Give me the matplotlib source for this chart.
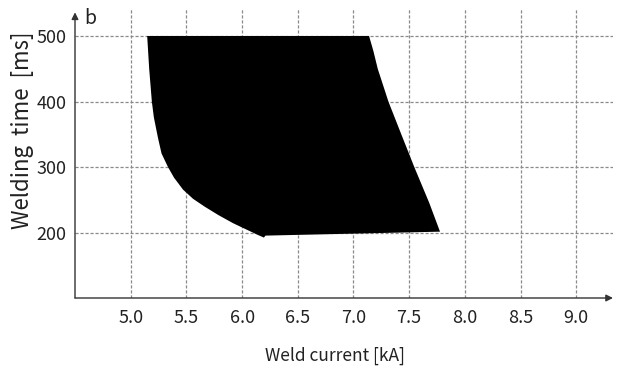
import matplotlib
matplotlib.use("Agg")
import matplotlib.pyplot as plt

plt.rcParams['font.family'] = ['Noto Sans CJK KR', 'DejaVu Sans']

# Boundary of the weldable region (current [kA], time [ms])
left_current = [5.148, 5.166, 5.19, 5.208, 5.246, 5.277, 5.336, 5.39, 5.47, 5.56, 5.665, 5.79, 5.918, 6.142, 6.196]
left_time = [500, 450, 400, 376, 344, 321, 300, 284, 266, 252, 240, 227, 215, 197, 193]
bottom_current = [6.21, 7.777]
bottom_time = [196, 202]
right_current = [7.777, 7.68, 7.547, 7.43, 7.314, 7.218, 7.179, 7.14]
right_time = [202, 246, 300, 350, 400, 450, 477, 500]

x_ticks = [5.0, 5.5, 6.0, 6.5, 7.0, 7.5, 8.0, 8.5, 9.0]
x_labels = ["5.0", "5.5", "6.0", "6.5", "7.0", "7.5", "8.0", "8.5", "9.0"]
y_ticks = [200, 300, 400, 500]
y_labels = ["200", "300", "400", "500"]

fig = plt.figure(figsize=(6.17, 3.71), dpi=100)
ax = fig.add_axes([75/617, 73/371, 538/617, 290/371])

xs = left_current + bottom_current + right_current
ys = left_time + bottom_time + right_time
ax.fill(xs, ys, color='black', lw=0, zorder=3, joinstyle='round')

ax.set_xlim(4.5, 9.33)
ax.set_ylim(101, 542.6)
ax.set_xticks(x_ticks)
ax.set_xticklabels(x_labels)
ax.set_yticks(y_ticks)
ax.set_yticklabels(y_labels)
ax.tick_params(length=0, labelsize=13, colors='#222222')
ax.tick_params(axis='x', pad=8)
ax.tick_params(axis='y', pad=6)

ax.grid(True, color='#8a8a8a', linestyle=(0, (2.5, 1.5)), linewidth=0.9, zorder=1)

for s in ['top', 'right', 'left', 'bottom']:
    ax.spines[s].set_visible(False)

# axes with arrows
ax.annotate('', xy=(1.0, 0), xytext=(0, 0), xycoords='axes fraction',
            arrowprops=dict(arrowstyle='-|>', color='#333333', lw=1.0,
                            mutation_scale=10, shrinkA=0, shrinkB=0), zorder=5)
ax.annotate('', xy=(0, 0.985), xytext=(0, 0), xycoords='axes fraction',
            arrowprops=dict(arrowstyle='-|>', color='#333333', lw=1.0,
                            mutation_scale=10, shrinkA=0, shrinkB=0), zorder=5)

fig.text(335/617, 1 - 356/371, "Weld current [kA]", ha='center', va='center',
         fontsize=12.5, color='#222222')
fig.text(23/617, 1 - 130/371, "Welding  time  [ms]", ha='center', va='center',
         rotation=90, fontsize=16, color='#222222')
fig.text(84/617, 1 - 18/371, "b", ha='left', va='center', fontsize=14, color='#222222')

fig.savefig("out.png", dpi=100)
